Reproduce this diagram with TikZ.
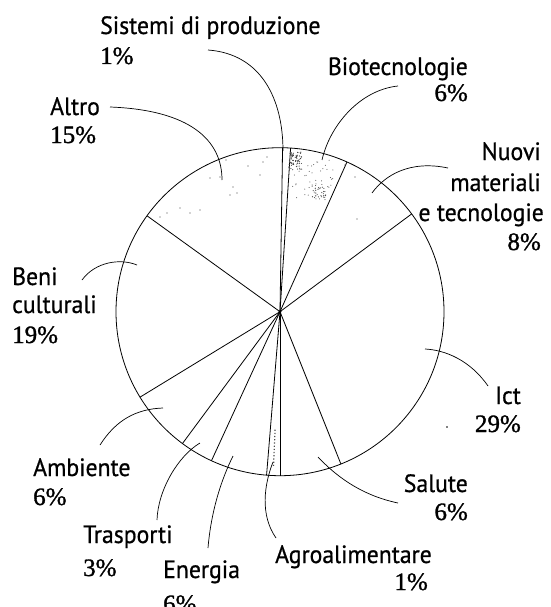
\documentclass[tikz,border=0pt]{standalone}
\usepackage{fontspec}
\newfontfamily\labfont[FakeStretch=0.95,FakeBold=0.7]{PT Sans}
\newfontfamily\pctfont[FakeBold=1.2]{Liberation Serif}
\begin{document}
\begin{tikzpicture}[x=1pt,y=-1pt,
  lab/.style={font=\labfont\fontsize{25}{29}\selectfont, inner sep=0pt},
  pct/.style={font=\pctfont\fontsize{25}{29}\selectfont, inner sep=0pt},
  leader/.style={line width=0.7pt},
  wedge/.style={line width=0.8pt},
  speck/.style={fill=black!75}]
\useasboundingbox (0,0) rectangle (550,607);
\coordinate (C) at (280,311.7);
% circle and sector boundaries
\draw[wedge] (C) circle [radius=164pt];
\foreach \a in {89.1,86.3,65.9,36.6,-68.2,-90,-94.7,-114.7,-126.5,-148.6,144.2}
  \draw[wedge] (C) -- ++(-\a:164);
\fill (C) circle (1.6);
% speckles (Biotecnologie)
\pgfmathsetseed{11}
\foreach \i in {1,...,70} {
  \pgfmathsetmacro\px{289+13*rnd}\pgfmathsetmacro\py{152+18*rnd}
  \fill[speck] (\px,\py) circle (0.6);}
\foreach \i in {1,...,30} {
  \pgfmathsetmacro\px{312+16*rnd}\pgfmathsetmacro\py{186+14*rnd}
  \pgfmathtruncatemacro\ok{(atan2(311.7-\py,\px-280) > 67.5) ? 1 : 0}
  \ifnum\ok=1 \fill[speck] (\px,\py) circle (0.55); \fi}
\foreach \i in {1,...,45} {
  \pgfmathsetmacro\px{292+42*rnd}\pgfmathsetmacro\py{160+42*rnd}
  \pgfmathtruncatemacro\ok{(atan2(311.7-\py,\px-280) > 67.5) ? 1 : 0}
  \ifnum\ok=1 \fill[speck] (\px,\py) circle (0.5); \fi}
% sparse speckles (Altro, Nuovi materiali)
\foreach \p in {(263,162),(267,157),(260,175),(220,177),(210,178),(233,187),(237,193),(230,195),(200,210),(190,213),(180,208),(167,213),(160,217),(248,166),(226,160),(357,219),(355,177),(345,165)}
  \fill[speck] \p circle (0.6);
% texture in the Agroalimentare wedge
\draw[line width=1.2pt, dotted, black!70] (C) ++(92.4:118) -- ++(92.4:38);
\fill (447,427) circle (0.8);
% labels
\node[lab, anchor=base west] (sis1) at (100,34) {Sistemi di produzione};
\node[pct, anchor=base west] (sis2) at (100,64) {1\%};
\node[lab, anchor=base west] (alt1) at (50,115) {Altro};
\node[pct, anchor=base west] (alt2) at (50,143) {15\%};
\node[lab, anchor=base east] (bio1) at (468,75) {Biotecnologie};
\node[pct, anchor=base east] (bio2) at (468,101) {6\%};
\node[lab, anchor=base east] (nuo1) at (541,160) {Nuovi};
\node[lab, anchor=base east] (nuo2) at (541,191) {materiali};
\node[lab, anchor=base east] (nuo3) at (544,221) {e tecnologie};
\node[pct, anchor=base east] (nuo4) at (541,250) {8\%};
\node[lab, anchor=base west] (ben1) at (12,285) {Beni};
\node[lab, anchor=base west] (ben2) at (12,313) {culturali};
\node[pct, anchor=base west] (ben3) at (12,343) {19\%};
\node[lab, anchor=base east] (ict1) at (521,404) {Ict};
\node[pct, anchor=base east] (ict2) at (521,432) {29\%};
\node[lab, anchor=base east] (sal1) at (468,492) {Salute};
\node[pct, anchor=base east] (sal2) at (468,520) {6\%};
\node[lab, anchor=base west] (agr1) at (275,563) {Agroalimentare};
\node[pct, anchor=base east] (agr2) at (428,590) {1\%};
\node[lab, anchor=base west] (ene1) at (163,578) {Energia};
\node[pct, anchor=base west] (ene2) at (163,612) {6\%};
\node[lab, anchor=base west] (tra1) at (83,543) {Trasporti};
\node[pct, anchor=base west] (tra2) at (83,576) {3\%};
\node[lab, anchor=base west] (amb1) at (33,476) {Ambiente};
\node[pct, anchor=base west] (amb2) at (33,505) {6\%};
% leader end points
\coordinate (sisA) at (208,50);  \coordinate (sisB) at (283,151);
\coordinate (altA) at (110,107); \coordinate (altB) at (222,180);
\coordinate (bioA) at (398,86);  \coordinate (bioB) at (322,160);
\coordinate (nuoA) at (448,168); \coordinate (nuoB) at (372,193);
\coordinate (benA) at (82,280);  \coordinate (benB) at (137,265);
\coordinate (ictA) at (488,386); \coordinate (ictB) at (425,349);
\coordinate (salA) at (398,503); \coordinate (salB) at (318,457);
\coordinate (agrA) at (276,538); \coordinate (agrB) at (273,462);
\coordinate (eneA) at (208,548); \coordinate (eneB) at (233,456);
\coordinate (traA) at (157,520); \coordinate (traB) at (200,443);
\coordinate (ambA) at (100,445); \coordinate (ambB) at (163,408);
% leaders
\draw[leader] (sisA) .. controls (262,54) and (283,100) .. (sisB);
\draw[leader] (altA) .. controls (190,110) and (222,140) .. (altB);
\draw[leader] (bioA) .. controls (360,90) and (330,125) .. (bioB);
\draw[leader] (nuoA) .. controls (410,160) and (385,175) .. (nuoB);
\draw[leader] (benA) .. controls (95,262) and (120,258) .. (benB);
\draw[leader] (ictA) .. controls (470,360) and (445,350) .. (ictB);
\draw[leader] (salA) .. controls (360,495) and (335,475) .. (salB);
\draw[leader] (agrA) .. controls (260,515) and (264,485) .. (agrB);
\draw[leader] (eneA) .. controls (211,512) and (221,480) .. (eneB);
\draw[leader] (traA) .. controls (158,490) and (178,456) .. (traB);
\draw[leader] (ambA) .. controls (116,420) and (136,409) .. (ambB);
\end{tikzpicture}
\end{document}
